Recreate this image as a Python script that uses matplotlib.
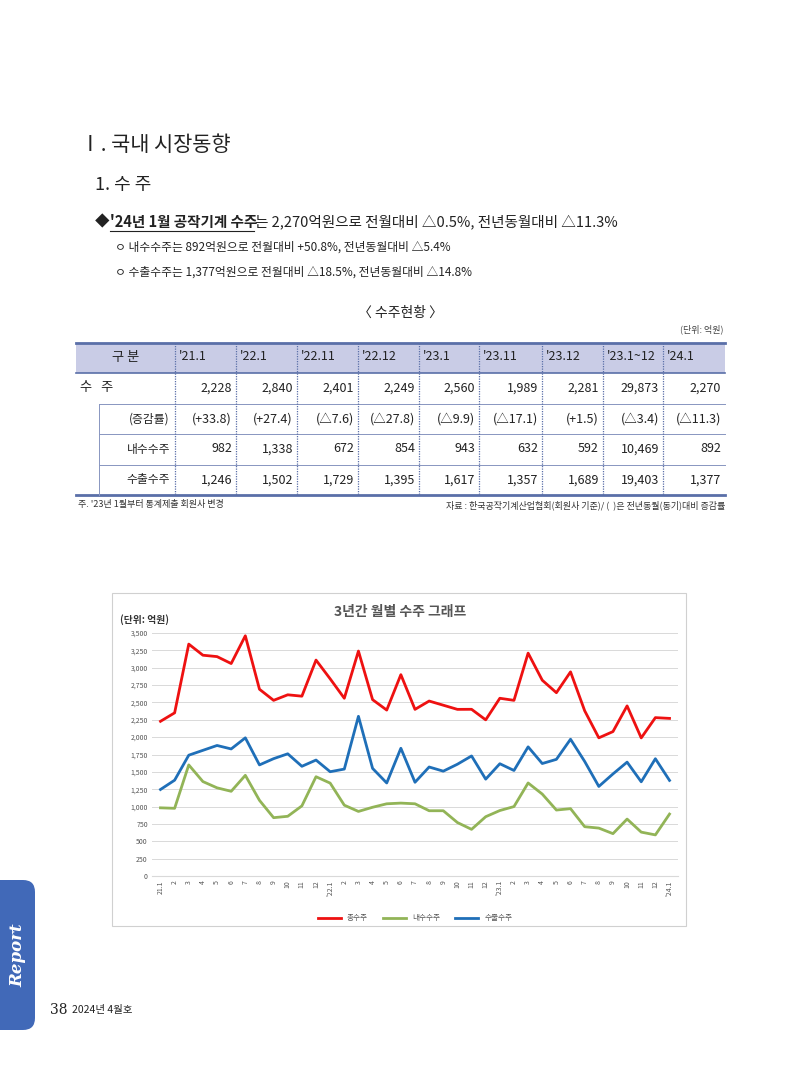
import matplotlib
matplotlib.use("Agg")
import matplotlib.pyplot as plt
from matplotlib.patches import Rectangle, FancyBboxPatch

plt.rcParams["font.family"] = ["Noto Sans CJK KR", "Noto Sans CJK JP", "Noto Sans CJK SC", "DejaVu Sans"]

# ---- table data ----
table_cols = ["'21.1", "'22.1", "'22.11", "'22.12", "'23.1", "'23.11", "'23.12", "'23.1~12", "'24.1"]
row_total = ["2,228", "2,840", "2,401", "2,249", "2,560", "1,989", "2,281", "29,873", "2,270"]
row_change = ["(+33.8)", "(+27.4)", "(△7.6)", "(△27.8)", "(△9.9)", "(△17.1)", "(+1.5)", "(△3.4)", "(△11.3)"]
row_domestic = ["982", "1,338", "672", "854", "943", "632", "592", "10,469", "892"]
row_export = ["1,246", "1,502", "1,729", "1,395", "1,617", "1,357", "1,689", "19,403", "1,377"]

# ---- chart data (monthly, '21.1 ~ '24.1) ----
months = (["21.1"] + [str(m) for m in range(2, 13)] + ["'22.1"] + [str(m) for m in range(2, 13)]
          + ["'23.1"] + [str(m) for m in range(2, 13)] + ["'24.1"])
total = [2228, 2350, 3340, 3180, 3160, 3060, 3460, 2690, 2530, 2610, 2590, 3110,
         2840, 2560, 3240, 2540, 2390, 2900, 2400, 2520, 2460, 2400, 2401, 2249,
         2560, 2530, 3210, 2820, 2640, 2940, 2380, 1990, 2080, 2450, 1989, 2281, 2270]
domestic = [982, 975, 1600, 1360, 1270, 1220, 1450, 1090, 840, 860, 1010, 1430,
            1338, 1020, 930, 990, 1040, 1050, 1040, 940, 940, 770, 672, 854,
            943, 1000, 1340, 1180, 950, 970, 710, 690, 610, 820, 632, 592, 892]
export = [1246, 1380, 1740, 1810, 1880, 1830, 1990, 1600, 1690, 1760, 1580, 1670,
          1502, 1540, 2300, 1550, 1340, 1840, 1350, 1570, 1510, 1610, 1729, 1395,
          1617, 1520, 1860, 1620, 1680, 1970, 1650, 1290, 1470, 1640, 1357, 1689, 1377]

W, H = 800, 1066
fig = plt.figure(figsize=(8, 10.66), dpi=100)
pg = fig.add_axes([0, 0, 1, 1])
pg.set_xlim(0, W)
pg.set_ylim(H, 0)
pg.axis("off")

txt = "#222222"
pg.text(80, 145, "Ⅰ. 국내 시장동향", fontsize=15, va="center", color=txt)
pg.text(95, 185, "1. 수 주", fontsize=13, va="center", color=txt)
pg.text(95, 222, "◆", fontsize=10.5, va="center", color=txt)
t1 = pg.text(110, 222, "'24년 1월 공작기계 수주", fontsize=10.5, va="center", color=txt, fontweight="bold")
pg.plot([110, 254], [231, 231], color=txt, lw=0.8)
pg.text(255, 222, "는 2,270억원으로 전월대비 △0.5%, 전년동월대비 △11.3%", fontsize=10.5, va="center", color=txt)
pg.text(115, 247, "ㅇ 내수수주는 892억원으로 전월대비 +50.8%, 전년동월대비 △5.4%", fontsize=8.5, va="center", color=txt)
pg.text(115, 272, "ㅇ 수출수주는 1,377억원으로 전월대비 △18.5%, 전년동월대비 △14.8%", fontsize=8.5, va="center", color=txt)

pg.text(400, 313, "〈 수주현황 〉", fontsize=10, ha="center", va="center", color=txt)
pg.text(724, 329, "(단위: 억원)", fontsize=6.5, ha="right", va="center", color="#444444")

# ---- table ----
xb = [76, 175, 236, 297, 358, 419, 479, 542, 603, 663, 725]
yb = [343, 373, 404, 434, 465, 495]
line_c = "#5a6fa8"
pg.add_patch(Rectangle((xb[0], yb[0]), xb[-1] - xb[0], yb[1] - yb[0], facecolor="#c9cce6", edgecolor="none"))
pg.plot([xb[0], xb[-1]], [yb[0], yb[0]], color=line_c, lw=2)
pg.plot([xb[0], xb[-1]], [yb[1], yb[1]], color=line_c, lw=1.2)
pg.plot([xb[0], xb[-1]], [yb[-1], yb[-1]], color=line_c, lw=2)
for y in yb[2:5]:
    pg.plot([99, xb[-1]], [y, y], color="#8895c0", lw=0.7)
pg.plot([99, 99], [yb[2], yb[-1]], color="#8895c0", lw=0.7)
for x in xb[1:-1]:
    pg.plot([x, x], [yb[0], yb[-1]], color=line_c, lw=0.9, ls=(0, (1, 1)))

pg.text((xb[0] + xb[1]) / 2, 357, "구 분", fontsize=9.5, ha="center", va="center", color=txt)
pg.text(80, 388, "수   주", fontsize=9.5, va="center", color=txt)
for lab, y in [("(증감률)", 419), ("내수수주", 449), ("수출수주", 480)]:
    pg.text(170, y, lab, fontsize=8.5, ha="right", va="center", color=txt)
for i, c in enumerate(table_cols):
    pg.text(xb[i + 1] + 4, 357, c, fontsize=9, va="center", color=txt)
    for vals, y in [(row_total, 388), (row_change, 419), (row_domestic, 449), (row_export, 480)]:
        pg.text(xb[i + 2] - 4, y, vals[i], fontsize=9, ha="right", va="center", color=txt)

pg.text(78, 505, "주. '23년 1월부터 통계제출 회원사 변경", fontsize=6.5, va="center", color="#333333")
pg.text(725, 505, "자료 : 한국공작기계산업협회(회원사 기준)/ (  )은 전년동월(동기)대비 증감률",
        fontsize=6.5, ha="right", va="center", color="#333333")

# ---- chart box ----
pg.add_patch(Rectangle((112, 593), 574, 333, facecolor="white", edgecolor="#d0d0d0", lw=0.8))
pg.text(400, 612, "3년간 월별 수주 그래프", fontsize=10, ha="center", va="center", color="#555555", fontweight="bold")
pg.text(120, 620, "(단위: 억원)", fontsize=7, va="center", color="#333333", fontweight="bold")

ax = fig.add_axes([152 / W, 1 - 876 / H, (678 - 152) / W, (876 - 633) / H])
x = list(range(len(months)))
ax.plot(x, total, color="#ee1111", lw=2, label="총수주")
ax.plot(x, domestic, color="#92b457", lw=2, label="내수수주")
ax.plot(x, export, color="#1f6fb8", lw=2, label="수출수주")
ax.set_ylim(0, 3500)
ax.set_yticks(range(0, 3501, 250))
ax.set_yticklabels([f"{v:,}" for v in range(0, 3501, 250)], fontsize=5, color="#555555")
ax.set_xlim(-0.6, len(months) - 0.4)
ax.set_xticks(x)
ax.set_xticklabels(months, rotation=90, fontsize=5, color="#555555")
ax.grid(axis="y", color="#d9d9d9", lw=0.7)
ax.set_axisbelow(True)
for s in ["top", "right", "left"]:
    ax.spines[s].set_visible(False)
ax.spines["bottom"].set_color("#d9d9d9")
ax.tick_params(length=0, pad=3)
ax.legend(loc="upper center", bbox_to_anchor=(0.5, -0.13), ncol=3, frameon=False, fontsize=5.5,
          handlelength=3, labelcolor="#555555")

# ---- side tab and footer ----
pg.add_patch(FancyBboxPatch((-20, 880), 55, 150, boxstyle="round,pad=0,rounding_size=12",
                            facecolor="#4169b8", edgecolor="none"))
pg.text(18, 955, "Report", fontsize=12, rotation=90, ha="center", va="center", color="white",
        fontstyle="italic", fontweight="bold", family="DejaVu Serif")
pg.text(50, 1010, "38", fontsize=10, va="center", color=txt, family="DejaVu Serif")
pg.text(72, 1010, "2024년 4월호", fontsize=7.5, va="center", color=txt)

fig.savefig("out.png", dpi=100)
